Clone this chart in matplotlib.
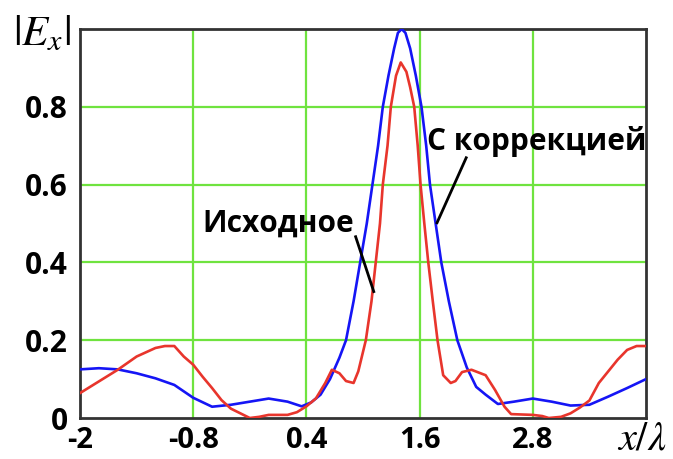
import matplotlib
matplotlib.use("Agg")
import matplotlib.pyplot as plt

# ---- data ----
x_corr = [-2.0, -1.8, -1.6, -1.4, -1.2, -1.0, -0.8, -0.6, -0.4, -0.2, 0.0, 0.2, 0.35,
          0.45, 0.55, 0.65, 0.75, 0.82, 0.9, 0.97, 1.04, 1.1, 1.16, 1.21, 1.27, 1.33,
          1.37, 1.41, 1.45, 1.5, 1.56, 1.62, 1.67, 1.71, 1.77, 1.83, 1.91, 2.0, 2.1,
          2.2, 2.3, 2.43, 2.6, 2.8, 3.0, 3.2, 3.4, 3.6, 3.8, 4.0]
y_corr = [0.125, 0.128, 0.125, 0.115, 0.102, 0.085, 0.052, 0.029, 0.034, 0.042, 0.05,
          0.042, 0.03, 0.04, 0.06, 0.10, 0.155, 0.2, 0.3, 0.4, 0.5, 0.6, 0.7, 0.8, 0.88,
          0.95, 0.99, 1.0, 0.99, 0.95, 0.88, 0.8, 0.7, 0.6, 0.5, 0.4, 0.3, 0.2, 0.13,
          0.08, 0.06, 0.036, 0.042, 0.05, 0.042, 0.032, 0.034, 0.055, 0.077, 0.10]

x_orig = [-2.0, -1.8, -1.6, -1.4, -1.2, -1.1, -1.0, -0.9, -0.8, -0.7, -0.6, -0.5, -0.4,
          -0.3, -0.2, -0.1, 0.0, 0.2, 0.3, 0.4, 0.5, 0.6, 0.67, 0.75, 0.82, 0.9, 0.95,
          1.03, 1.09, 1.135, 1.18, 1.21, 1.26, 1.295, 1.35, 1.4, 1.46, 1.5, 1.543, 1.58,
          1.61, 1.65, 1.692, 1.74, 1.79, 1.85, 1.93, 1.98, 2.05, 2.15, 2.3, 2.4, 2.5,
          2.57, 2.8, 2.9, 2.97, 3.1, 3.2, 3.3, 3.4, 3.5, 3.6, 3.7, 3.8, 3.9, 4.0]
y_orig = [0.064, 0.094, 0.124, 0.158, 0.18, 0.185, 0.185, 0.158, 0.137, 0.106, 0.077,
          0.046, 0.024, 0.012, 0.0, 0.003, 0.008, 0.008, 0.015, 0.03, 0.05, 0.09, 0.124,
          0.115, 0.095, 0.09, 0.12, 0.2, 0.3, 0.4, 0.5, 0.6, 0.7, 0.8, 0.88, 0.914, 0.89,
          0.85, 0.8, 0.7, 0.6, 0.5, 0.4, 0.3, 0.2, 0.11, 0.09, 0.095, 0.118, 0.124, 0.11,
          0.072, 0.029, 0.01, 0.008, 0.005, 0.0, 0.003, 0.012, 0.027, 0.045, 0.09, 0.12,
          0.15, 0.175, 0.185, 0.185]

x_ticks = [-2, -0.8, 0.4, 1.6, 2.8]
x_tick_labels = ["-2", "-0.8", "0.4", "1.6", "2.8"]
y_ticks = [0, 0.2, 0.4, 0.6, 0.8]
y_tick_labels = ["0", "0.2", "0.4", "0.6", "0.8"]

label_orig = "Исходное"
label_corr = "С коррекцией"

# ---- figure ----
plt.rcParams['font.family'] = ['Open Sans', 'DejaVu Sans']
plt.rcParams['mathtext.fontset'] = 'stix'

fig = plt.figure(figsize=(6.73, 4.59), dpi=100)
ax = fig.add_axes([80 / 673, 41 / 459, 566 / 673, 389 / 459])

ax.set_xlim(-2, 4)
ax.set_ylim(0, 1)

for xv in x_ticks[1:]:
    ax.axvline(xv, color='#6fe33f', lw=1.6, zorder=1)
for yv in y_ticks[1:]:
    ax.axhline(yv, color='#6fe33f', lw=1.6, zorder=1)

ax.plot(x_corr, y_corr, color='#1515f5', lw=1.9, zorder=3)
ax.plot(x_orig, y_orig, color='#e8352c', lw=1.9, zorder=3)

ax.set_xticks(x_ticks)
ax.set_xticklabels(x_tick_labels, fontsize=21, fontweight='bold')
ax.set_yticks(y_ticks)
ax.set_yticklabels(y_tick_labels, fontsize=21.5, fontweight='bold')
ax.tick_params(length=0, pad=9)
ax.tick_params(axis='x', pad=5.5)

for s in ax.spines.values():
    s.set_color('#333333')
    s.set_linewidth(2)

fig.text(42 / 673, 1 - 34 / 459, r'$|E_x|$', fontsize=31, ha='center', va='center')
fig.text(666 / 673, 1 - 439 / 459, r'$x/\lambda$', fontsize=29, ha='right', va='center')

# annotations
ax.text(0.102, 0.50, label_orig, fontsize=21.5, fontweight='bold', ha='center', va='center', zorder=4)
ax.plot([0.922, 1.114], [0.466, 0.325], color='black', lw=2, zorder=4)
ax.text(2.839, 0.711, label_corr, fontsize=21.5, fontweight='bold', ha='center', va='center', zorder=4)
ax.plot([2.094, 1.785], [0.669, 0.502], color='black', lw=2, zorder=4)

fig.savefig('out.png', dpi=100)
